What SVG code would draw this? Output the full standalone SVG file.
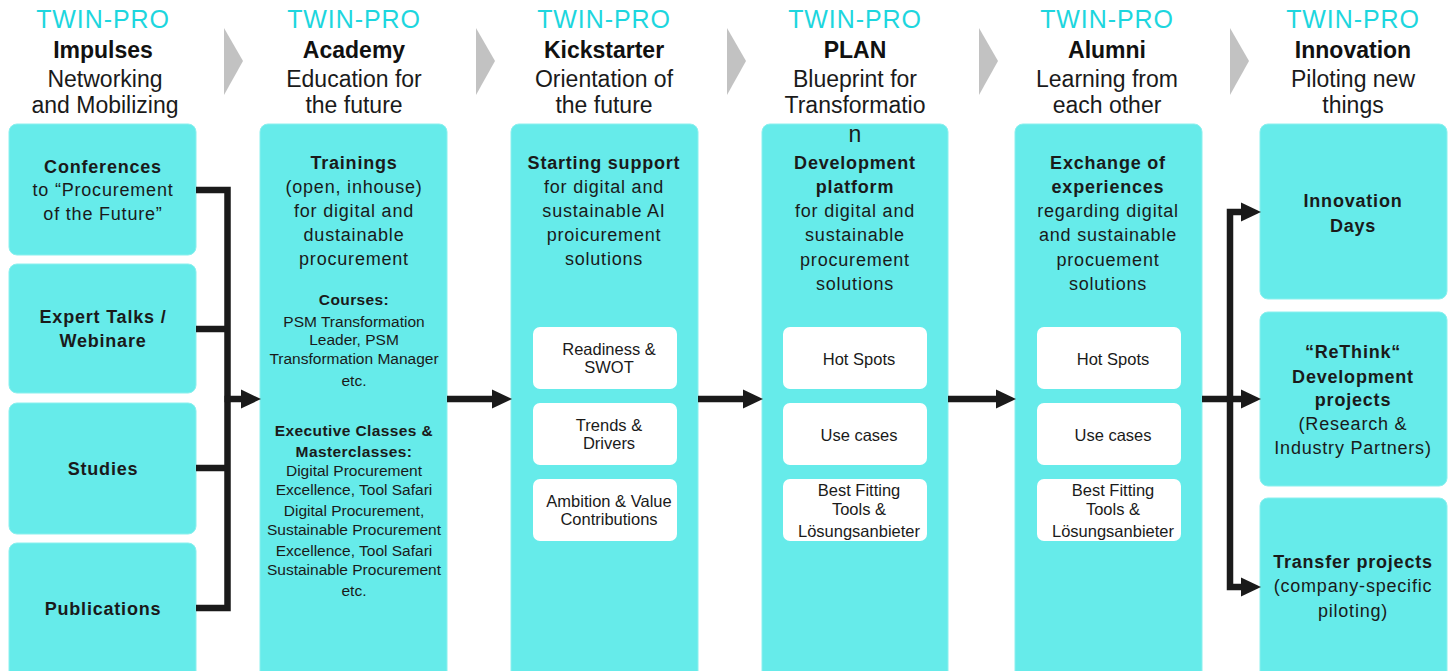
<svg xmlns="http://www.w3.org/2000/svg" width="1450" height="671" viewBox="0 0 1450 671">
<defs>
<style>
.box{fill:#66EBEA;stroke:#8AF0EE;stroke-width:1}
.wbox{fill:#FFFFFF}
.chev{fill:#C2C2C2}
.tp{font-family:"Liberation Sans",Arial,sans-serif;font-size:25px;fill:#1DD6DE;letter-spacing:0.9px;text-anchor:middle}
.ht{font-family:"Liberation Sans",Arial,sans-serif;font-size:23px;font-weight:bold;fill:#111;text-anchor:middle}
.hs{font-family:"Liberation Sans",Arial,sans-serif;font-size:23px;fill:#1a1a1a;text-anchor:middle}
.t{font-family:"Liberation Sans",Arial,sans-serif;font-size:18px;fill:#1a1a1a;letter-spacing:0.8px;text-anchor:middle}
.b{font-weight:bold}
.s{font-family:"Liberation Sans",Arial,sans-serif;font-size:15.5px;fill:#1a1a1a;text-anchor:middle}
.s.b{letter-spacing:0.4px}
.w{font-family:"Liberation Sans",Arial,sans-serif;font-size:16.5px;fill:#1a1a1a;text-anchor:middle}
.ln{fill:none;stroke:#1a1a1a;stroke-width:6.5;stroke-linejoin:miter}
</style>
<marker id="ah" markerUnits="userSpaceOnUse" markerWidth="20" markerHeight="20" refX="0" refY="9.5" orient="auto" viewBox="0 0 20 19">
<path d="M0,0 L20,9.5 L0,19 Z" fill="#1a1a1a"/>
</marker>
</defs>
<rect width="1450" height="671" fill="#FFFFFF"/>

<!-- headers -->
<g id="headers">
<polygon class="chev" points="224,28 243,61 224,95"/>
<polygon class="chev" points="476,28 495,61 476,95"/>
<polygon class="chev" points="727,28 746,61 727,95"/>
<polygon class="chev" points="979,28 998,61 979,95"/>
<polygon class="chev" points="1230,28 1249,61 1230,95"/>
<g id="h-impulses">
<text class="tp" x="103" y="28">TWIN-PRO</text>
<text class="ht" x="103" y="58">Impulses</text>
<text class="hs" x="105" y="87">Networking</text>
<text class="hs" x="105" y="113">and Mobilizing</text>
</g>
<g id="h-academy">
<text class="tp" x="354" y="28">TWIN-PRO</text>
<text class="ht" x="354" y="58">Academy</text>
<text class="hs" x="354" y="87">Education for</text>
<text class="hs" x="354" y="113">the future</text>
</g>
<g id="h-kickstarter">
<text class="tp" x="604" y="28">TWIN-PRO</text>
<text class="ht" x="604" y="58">Kickstarter</text>
<text class="hs" x="604" y="87">Orientation of</text>
<text class="hs" x="604" y="113">the future</text>
</g>
<g id="h-plan">
<text class="tp" x="855" y="28">TWIN-PRO</text>
<text class="ht" x="855" y="58">PLAN</text>
<text class="hs" x="855" y="87">Blueprint for</text>
<text class="hs" x="855" y="113">Transformatio</text>
</g>
<g id="h-alumni">
<text class="tp" x="1107" y="28">TWIN-PRO</text>
<text class="ht" x="1107" y="58">Alumni</text>
<text class="hs" x="1107" y="87">Learning from</text>
<text class="hs" x="1107" y="113">each other</text>
</g>
<g id="h-innovation">
<text class="tp" x="1353" y="28">TWIN-PRO</text>
<text class="ht" x="1353" y="58">Innovation</text>
<text class="hs" x="1353" y="87">Piloting new</text>
<text class="hs" x="1353" y="113">things</text>
</g>
</g>

<!-- column 1 -->
<g id="conferences">
<rect class="box" x="9" y="124" width="187" height="131" rx="8"/>
<text class="t b" x="103" y="173">Conferences</text>
<text class="t" x="103" y="196">to “Procurement</text>
<text class="t" x="103" y="220">of the Future”</text>
</g>
<g id="experttalks">
<rect class="box" x="9" y="264" width="187" height="129" rx="8"/>
<text class="t b" x="103" y="323">Expert Talks /</text>
<text class="t b" x="103" y="347">Webinare</text>
</g>
<g id="studies">
<rect class="box" x="9" y="403" width="187" height="131" rx="8"/>
<text class="t b" x="103" y="475">Studies</text>
</g>
<g id="publications">
<rect class="box" x="9" y="543" width="187" height="150" rx="8"/>
<text class="t b" x="103" y="615">Publications</text>
</g>

<!-- academy -->
<g id="academy">
<rect class="box" x="260" y="124" width="187" height="570" rx="8"/>
<text class="t b" x="354" y="169">Trainings</text>
<text class="t" x="354" y="193">(open, inhouse)</text>
<text class="t" x="354" y="217">for digital and</text>
<text class="t" x="354" y="241">dustainable</text>
<text class="t" x="354" y="265">procurement</text>
<text class="s b" x="354" y="305">Courses:</text>
<text class="s" x="354" y="327">PSM Transformation</text>
<text class="s" x="354" y="345">Leader, PSM</text>
<text class="s" x="354" y="364">Transformation Manager</text>
<text class="s" x="354" y="386">etc.</text>
<text class="s b" x="354" y="436">Executive Classes &amp;</text>
<text class="s b" x="354" y="457">Masterclasses:</text>
<text class="s" x="354" y="476">Digital Procurement</text>
<text class="s" x="354" y="495">Excellence, Tool Safari</text>
<text class="s" x="354" y="516">Digital Procurement,</text>
<text class="s" x="354" y="535">Sustainable Procurement</text>
<text class="s" x="354" y="556">Excellence, Tool Safari</text>
<text class="s" x="354" y="575">Sustainable Procurement</text>
<text class="s" x="354" y="596">etc.</text>
</g>

<!-- kickstarter -->
<g id="kickstarter">
<rect class="box" x="511" y="124" width="187" height="570" rx="8"/>
<text class="t b" x="604" y="169">Starting support</text>
<text class="t" x="604" y="193">for digital and</text>
<text class="t" x="604" y="217">sustainable AI</text>
<text class="t" x="604" y="241">proicurement</text>
<text class="t" x="604" y="265">solutions</text>
<rect class="wbox" x="533" y="327" width="144" height="62" rx="7"/>
<text class="w" x="609" y="355">Readiness &amp;</text>
<text class="w" x="609" y="373">SWOT</text>
<rect class="wbox" x="533" y="403" width="144" height="62" rx="7"/>
<text class="w" x="609" y="431">Trends &amp;</text>
<text class="w" x="609" y="449">Drivers</text>
<rect class="wbox" x="533" y="479" width="144" height="62" rx="7"/>
<text class="w" x="609" y="507">Ambition &amp; Value</text>
<text class="w" x="609" y="525">Contributions</text>
</g>

<!-- plan -->
<g id="plan">
<rect class="box" x="762" y="124" width="186" height="570" rx="8"/>
<text class="hs" x="855" y="142">n</text>
<text class="t b" x="855" y="169">Development</text>
<text class="t b" x="855" y="193">platform</text>
<text class="t" x="855" y="217">for digital and</text>
<text class="t" x="855" y="241">sustainable</text>
<text class="t" x="855" y="266">procurement</text>
<text class="t" x="855" y="290">solutions</text>
<rect class="wbox" x="783" y="327" width="144" height="62" rx="7"/>
<text class="w" x="859" y="365">Hot Spots</text>
<rect class="wbox" x="783" y="403" width="144" height="62" rx="7"/>
<text class="w" x="859" y="441">Use cases</text>
<rect class="wbox" x="783" y="479" width="144" height="62" rx="7"/>
<text class="w" x="859" y="496">Best Fitting</text>
<text class="w" x="859" y="515">Tools &amp;</text>
<text class="w" x="859" y="537">Lösungsanbieter</text>
</g>

<!-- alumni -->
<g id="alumni">
<rect class="box" x="1015" y="124" width="187" height="570" rx="8"/>
<text class="t b" x="1108" y="169">Exchange of</text>
<text class="t b" x="1108" y="193">experiences</text>
<text class="t" x="1108" y="217">regarding digital</text>
<text class="t" x="1108" y="241">and sustainable</text>
<text class="t" x="1108" y="266">procuement</text>
<text class="t" x="1108" y="290">solutions</text>
<rect class="wbox" x="1037" y="327" width="144" height="62" rx="7"/>
<text class="w" x="1113" y="365">Hot Spots</text>
<rect class="wbox" x="1037" y="403" width="144" height="62" rx="7"/>
<text class="w" x="1113" y="441">Use cases</text>
<rect class="wbox" x="1037" y="479" width="144" height="62" rx="7"/>
<text class="w" x="1113" y="496">Best Fitting</text>
<text class="w" x="1113" y="515">Tools &amp;</text>
<text class="w" x="1113" y="537">Lösungsanbieter</text>
</g>

<!-- innovation -->
<g id="innovationdays">
<rect class="box" x="1260" y="124" width="187" height="175" rx="8"/>
<text class="t b" x="1353" y="207">Innovation</text>
<text class="t b" x="1353" y="232">Days</text>
</g>
<g id="rethink">
<rect class="box" x="1260" y="312" width="187" height="174" rx="8"/>
<text class="t b" x="1353" y="358">“ReThink“</text>
<text class="t b" x="1353" y="383">Development</text>
<text class="t b" x="1353" y="406">projects</text>
<text class="t" x="1353" y="430">(Research &amp;</text>
<text class="t" x="1353" y="454">Industry Partners)</text>
</g>
<g id="transfer">
<rect class="box" x="1260" y="498" width="187" height="195" rx="8"/>
<text class="t b" x="1353" y="568">Transfer projects</text>
<text class="t" x="1353" y="592">(company-specific</text>
<text class="t" x="1353" y="617">piloting)</text>
</g>

<!-- connectors -->
<g id="connectors">
<path class="ln" d="M196,190 H227.5 V608 H196"/>
<path class="ln" d="M196,329 H227.5"/>
<path class="ln" d="M196,468 H227.5"/>
<path class="ln" d="M224.5,399 H241" marker-end="url(#ah)"/>
<path class="ln" d="M447,399 H492" marker-end="url(#ah)"/>
<path class="ln" d="M698,399 H743" marker-end="url(#ah)"/>
<path class="ln" d="M948,399 H996" marker-end="url(#ah)"/>
<path class="ln" d="M1202,399 H1241" marker-end="url(#ah)"/>
<path class="ln" d="M1230,402 V212 H1241" marker-end="url(#ah)"/>
<path class="ln" d="M1230,396 V587 H1241" marker-end="url(#ah)"/>
</g>
</svg>
